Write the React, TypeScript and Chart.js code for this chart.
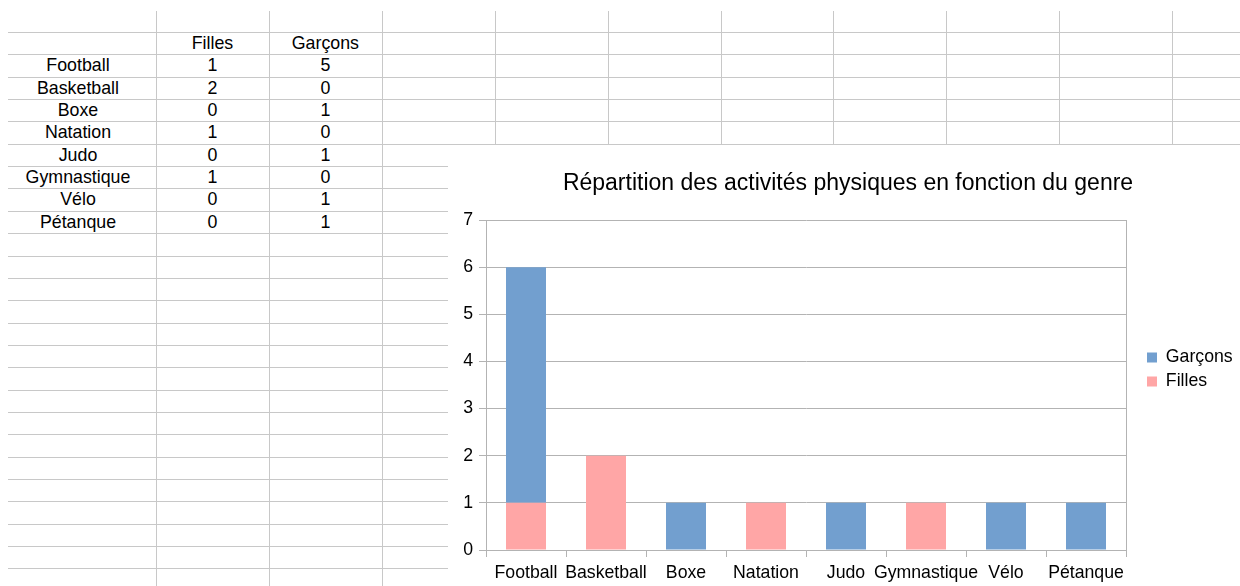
import React, { useEffect, useRef } from 'react';
import { Chart, registerables } from 'chart.js';

Chart.register(...registerables);

// ---- data ----
const categories = ['Football', 'Basketball', 'Boxe', 'Natation', 'Judo', 'Gymnastique', 'Vélo', 'Pétanque'];
const filles = [1, 2, 0, 1, 0, 1, 0, 0];
const garcons = [5, 0, 1, 0, 1, 0, 1, 1];
const seriesNames = ['Filles', 'Garçons'];
const chartTitle = 'Répartition des activités physiques en fonction du genre';
const yMin = 0;
const yMax = 7;
const yStep = 1;

// ---- styles / layout ----
const FONT_FAMILY = '"Liberation Sans", Arial, Helvetica, sans-serif';
const SHEET_LINE = '#c8c8c8';
const AXIS = '#b3b3b3';
const PINK = '#ffa6a6';
const BLUE = '#729fcf';
const TEXT = '#000000';
const FS = 17.7;

const ROW_TOP = 32;
const ROW_H = 22.35;
const COL_W = 112.9;
const COL_START = 156;

const CH_LEFT = 448;
const CH_TOP = 145;
const CANVAS_W = 800;
const CANVAS_H = 441;

const PLOT_LEFT = 38;
const PLOT_RIGHT = 678;
const PLOT_BOTTOM = 405;
const LEGEND_BOX_X = 699;
const LEG_PAD = 6.3;
const BOX = 10;

export default function App() {
  const ref = useRef<HTMLCanvasElement>(null);

  useEffect(() => {
    const mctx = document.createElement('canvas').getContext('2d')!;
    mctx.font = `${FS}px ${FONT_FAMILY}`;
    const textW = Math.max(...seriesNames.map((n) => mctx.measureText(n).width));
    const itemW = BOX + FS / 2 + textW;
    const legendW = LEG_PAD + itemW + 10;
    const legendLeft = LEGEND_BOX_X - LEG_PAD;
    const dummyW = legendLeft - PLOT_RIGHT;
    const padRight = Math.max(0, CANVAS_W - legendLeft - legendW);

    const titleShift = {
      id: 'titleShift',
      afterLayout(chart: any) {
        const tb = chart.titleBlock;
        if (tb) {
          tb.left = 0;
          tb.right = CANVAS_W;
          tb.width = CANVAS_W;
        }
      },
    };

    const chart = new Chart(ref.current!, {
      type: 'bar',
      data: {
        labels: categories,
        datasets: [
          { label: seriesNames[0], data: filles, backgroundColor: PINK, borderWidth: 0, stack: 's' },
          { label: seriesNames[1], data: garcons, backgroundColor: BLUE, borderWidth: 0, stack: 's' },
        ],
      },
      options: {
        animation: false,
        responsive: false,
        maintainAspectRatio: false,
        layout: { padding: { left: 0, top: 0, bottom: 0, right: padRight } },
        datasets: { bar: { categoryPercentage: 1, barPercentage: 0.5 } },
        scales: {
          x: {
            stacked: true,
            offset: true,
            grid: { offset: true, drawOnChartArea: false, drawTicks: true, tickLength: 7, color: AXIS },
            border: { color: AXIS },
            ticks: { color: TEXT, font: { family: FONT_FAMILY, size: FS }, padding: 5, maxRotation: 0, autoSkip: false },
            afterFit: (s: any) => {
              s.height = CANVAS_H - PLOT_BOTTOM;
            },
          },
          y: {
            stacked: true,
            min: yMin,
            max: yMax,
            ticks: { stepSize: yStep, color: TEXT, font: { family: FONT_FAMILY, size: FS }, padding: 6 },
            grid: { color: AXIS, tickLength: 7 },
            border: { color: AXIS },
            afterFit: (s: any) => {
              s.width = PLOT_LEFT;
            },
          },
          y2: {
            position: 'right',
            min: yMin,
            max: yMax,
            grid: { display: false, drawTicks: false },
            ticks: { display: false },
            border: { display: true, color: AXIS },
            afterFit: (s: any) => {
              s.width = dummyW;
            },
          },
        },
        plugins: {
          title: {
            display: true,
            text: chartTitle,
            color: TEXT,
            font: { family: FONT_FAMILY, size: 23, weight: 'normal' },
            padding: { top: 24.8, bottom: 22.6 },
          },
          legend: {
            position: 'right',
            reverse: true,
            title: {
              display: true,
              text: ' ',
              font: { family: FONT_FAMILY, size: 1 },
              padding: { top: 6.8, bottom: 0 },
            },
            labels: {
              boxWidth: BOX,
              boxHeight: BOX,
              padding: LEG_PAD,
              color: TEXT,
              font: { family: FONT_FAMILY, size: FS },
            },
          },
          tooltip: { enabled: false },
        },
      } as any,
      plugins: [titleShift],
    });
    return () => chart.destroy();
  }, []);

  const vLines = Array.from({ length: 10 }, (_, k) => Math.round(COL_START + k * COL_W));
  const hLines = Array.from({ length: 25 }, (_, k) => Math.round(ROW_TOP + k * ROW_H));

  const cellStyle = (left: number, width: number, row: number): React.CSSProperties => ({
    position: 'absolute',
    left,
    width,
    top: ROW_TOP + row * ROW_H,
    height: ROW_H,
    lineHeight: `${ROW_H}px`,
    textAlign: 'center',
    fontFamily: FONT_FAMILY,
    fontSize: 17.8,
    color: TEXT,
    whiteSpace: 'nowrap',
  });

  return (
    <div
      style={{
        position: 'absolute',
        left: 0,
        top: 0,
        width: 1240,
        height: 586,
        overflow: 'hidden',
        background: '#ffffff',
      }}
    >
      {hLines.map((y, i) => (
        <div key={'h' + i} style={{ position: 'absolute', left: 8, top: y, width: 1232, height: 1, background: SHEET_LINE }} />
      ))}
      {vLines.map((x, i) => (
        <div key={'v' + i} style={{ position: 'absolute', left: x, top: 11, width: 1, height: 575, background: SHEET_LINE }} />
      ))}
      <div style={cellStyle(COL_START, COL_W, 0)}>{seriesNames[0]}</div>
      <div style={cellStyle(COL_START + COL_W, COL_W, 0)}>{seriesNames[1]}</div>
      {categories.map((c, i) => (
        <React.Fragment key={c}>
          <div style={cellStyle(0, COL_START, i + 1)}>{c}</div>
          <div style={cellStyle(COL_START, COL_W, i + 1)}>{filles[i]}</div>
          <div style={cellStyle(COL_START + COL_W, COL_W, i + 1)}>{garcons[i]}</div>
        </React.Fragment>
      ))}
      <div
        style={{
          position: 'absolute',
          left: CH_LEFT,
          top: CH_TOP,
          width: 1240 - CH_LEFT,
          height: 586 - CH_TOP,
          background: '#ffffff',
          overflow: 'hidden',
        }}
      >
        <canvas ref={ref} width={CANVAS_W} height={CANVAS_H} style={{ display: 'block', width: CANVAS_W, height: CANVAS_H }} />
      </div>
    </div>
  );
}
